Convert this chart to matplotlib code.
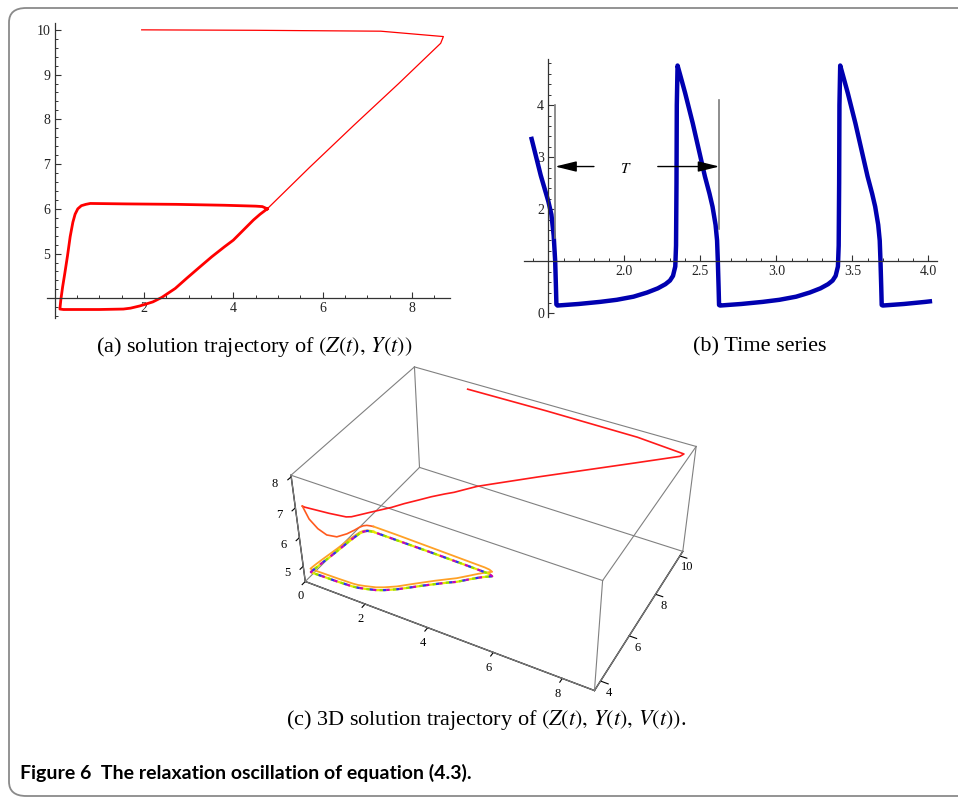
import numpy as np
import matplotlib
matplotlib.use("Agg")
import matplotlib.pyplot as plt
from matplotlib.patches import FancyBboxPatch
from matplotlib.ticker import MultipleLocator, FixedLocator, FixedFormatter

plt.rcParams['font.family'] = ['Liberation Serif', 'DejaVu Serif']
plt.rcParams['mathtext.fontset'] = 'stix'

# ---- trajectory pieces in the (Z, Y) plane ----
# transient: start -> far corner -> diagonal down to the cycle
trans_Z = [1.95, 4.5, 7.3, 8.7, 8.64, 7.7, 6.7, 5.7, 4.76]
trans_Y = [10.0, 9.99, 9.97, 9.85, 9.70, 8.80, 7.87, 6.92, 6.0]
# slow branch of the cycle (right tip -> lower left corner)
fall_Z = [4.76, 4.6, 4.45, 4.25, 4.0, 3.8, 3.52, 3.25, 2.96, 2.7, 2.4, 2.2, 1.91, 1.7, 1.54, 1.0, 0.5, 0.2, 0.12]
fall_Y = [6.0, 5.88, 5.75, 5.55, 5.3, 5.15, 4.93, 4.7, 4.45, 4.22, 4.02, 3.92, 3.83, 3.78, 3.76, 3.75, 3.75, 3.75, 3.76]
# fast jump up the left side
jump_Z = [0.12, 0.14, 0.18, 0.23, 0.29, 0.35, 0.41, 0.46, 0.52, 0.6, 0.7, 0.8]
jump_Y = [3.76, 3.96, 4.25, 4.56, 4.95, 5.38, 5.7, 5.88, 6.0, 6.07, 6.1, 6.12]
# top edge back to the right tip
top_Z = [0.8, 1.6, 2.73, 3.8, 4.5, 4.65, 4.76]
top_Y = [6.12, 6.11, 6.1, 6.08, 6.06, 6.05, 6.0]

# ---- (b) time series Z(t) ----
ts_t = [1.39, 1.42, 1.45, 1.48, 1.50, 1.52, 1.535, 1.545, 1.55, 1.553,
        1.56, 1.70, 1.84, 1.95, 2.06, 2.15, 2.22, 2.27, 2.30, 2.32, 2.335, 2.34, 2.343, 2.345, 2.35,
        2.37, 2.40, 2.45, 2.49, 2.53, 2.56, 2.58, 2.60, 2.61, 2.615, 2.62, 2.623,
        2.63, 2.77, 2.91, 3.02, 3.13, 3.22, 3.29, 3.34, 3.37, 3.39, 3.405, 3.41, 3.413, 3.415, 3.42,
        3.44, 3.47, 3.52, 3.56, 3.60, 3.63, 3.65, 3.67, 3.68, 3.685, 3.69, 3.693,
        3.70, 3.84, 3.98, 4.01]
ts_z = [3.35, 3.0, 2.65, 2.35, 2.15, 1.90, 1.5, 1.0, 0.5, 0.17,
        0.15, 0.18, 0.22, 0.26, 0.32, 0.40, 0.48, 0.56, 0.63, 0.72, 0.9, 1.3, 2.5, 4.0, 4.76,
        4.55, 4.23, 3.65, 3.14, 2.63, 2.30, 2.05, 1.70, 1.40, 1.0, 0.5, 0.16,
        0.15, 0.18, 0.22, 0.26, 0.32, 0.40, 0.48, 0.56, 0.63, 0.72, 0.9, 1.3, 2.5, 4.0, 4.76,
        4.55, 4.23, 3.65, 3.14, 2.63, 2.30, 2.05, 1.70, 1.40, 1.0, 0.5, 0.16,
        0.15, 0.18, 0.22, 0.23]

# ---- (c) V along each piece ----
red_trans_V = [7.97, 8.0, 8.0, 7.97, 7.96, 7.96, 7.95, 7.95, 7.95]
red_fall_V = [7.95, 7.93, 7.92, 7.89, 7.85, 7.82, 7.77, 7.71, 7.65, 7.58, 7.5, 7.43, 7.3, 7.2, 7.15,
              7.08, 7.03, 7.0, 7.0]
first_jump_V = [7.0, 6.45, 5.95, 5.55, 5.25, 5.1, 5.05, 5.05, 5.05, 5.05, 5.05, 5.05]
outer_top_V = [5.05, 5.05, 5.03, 5.02, 5.02, 5.01, 5.01]
outer_fall_V = [5.01, 5.0, 4.99, 4.98, 4.97, 4.96, 4.95, 4.94, 4.93, 4.92, 4.91, 4.9, 4.89, 4.88, 4.88,
                4.87, 4.86, 4.85, 4.85]
outer_jump_V = [4.85, 4.85, 4.85, 4.85, 4.85, 4.86, 4.86, 4.87, 4.87, 4.87, 4.87, 4.87]
inner_top_V = [4.85, 4.85, 4.85, 4.85, 4.85, 4.85, 4.85]
inner_fall_V = [4.85, 4.85, 4.85, 4.85, 4.84, 4.84, 4.83, 4.83, 4.82, 4.82, 4.81, 4.8, 4.79, 4.78, 4.77,
                4.75, 4.74, 4.73, 4.73]
inner_jump_V = [4.73, 4.73, 4.74, 4.75, 4.77, 4.79, 4.81, 4.83, 4.84, 4.85, 4.85, 4.85]
inner_colors = ['#e6e600', '#8fe000', '#2b2bff', '#c400c4']

fig = plt.figure(figsize=(9.58, 7.99), dpi=100)

# rounded frame
fig.patches.append(FancyBboxPatch((9 / 958, 1 - 796 / 799), 1.2, 788 / 799,
                                  boxstyle="round,pad=0,rounding_size=0.018",
                                  transform=fig.transFigure, facecolor='none',
                                  edgecolor='#8a8a8a', lw=1.3))


def mma_axes(ax, xorig, yorig):
    for s in ['top', 'right']:
        ax.spines[s].set_visible(False)
    ax.spines['left'].set_position(('data', xorig))
    ax.spines['bottom'].set_position(('data', yorig))
    for s in ['left', 'bottom']:
        ax.spines[s].set_color('#333333')
        ax.spines[s].set_linewidth(0.9)
    ax.tick_params(which='major', direction='in', length=4, width=0.8, color='#333333',
                   labelsize=10, labelcolor='#222222', pad=3)
    ax.tick_params(which='minor', direction='in', length=2.2, width=0.7, color='#333333')
    ax.patch.set_visible(False)


# panel (a)
axa = fig.add_axes([0.0490, 0.602, 0.4208, 0.3696])
axa.plot(trans_Z, trans_Y, color='red', lw=0.9)
axa.plot(fall_Z + jump_Z + top_Z, fall_Y + jump_Y + top_Y, color='red', lw=2.0,
         solid_joinstyle='round')
axa.set_xlim(-0.17, 8.85)
axa.set_ylim(3.56, 10.16)
mma_axes(axa, 0, 4)
axa.xaxis.set_major_locator(FixedLocator([2, 4, 6, 8]))
axa.xaxis.set_minor_locator(MultipleLocator(0.5))
axa.yaxis.set_major_locator(FixedLocator([5, 6, 7, 8, 9, 10]))
axa.yaxis.set_minor_locator(MultipleLocator(0.2))

# panel (b)
axb = fig.add_axes([0.547, 0.6036, 0.4308, 0.3222])
axb.plot(ts_t, ts_z, color='#0000b0', lw=3.2, solid_joinstyle='round')
axb.set_xlim(1.34, 4.055)
axb.set_ylim(-0.065, 4.88)
mma_axes(axb, 1.5, 1.0)
axb.xaxis.set_major_locator(FixedLocator([2.0, 2.5, 3.0, 3.5, 4.0]))
axb.xaxis.set_major_formatter(FixedFormatter(['2.0', '2.5', '3.0', '3.5', '4.0']))
axb.xaxis.set_minor_locator(MultipleLocator(0.1))
axb.yaxis.set_major_locator(FixedLocator([0, 2, 3, 4]))
axb.yaxis.set_minor_locator(MultipleLocator(0.2))
axb.plot([1.545, 1.545], [1.45, 4.0], color='#7a7a7a', lw=1.2)
axb.plot([2.62, 2.62], [1.62, 4.1], color='#7a7a7a', lw=1.2)
arrow = dict(arrowstyle='-|>,head_length=1.3,head_width=0.32', color='black', lw=1.0,
             shrinkA=0, shrinkB=0)
axb.annotate('', xy=(1.545, 2.82), xytext=(1.80, 2.82), arrowprops=arrow)
axb.annotate('', xy=(2.625, 2.82), xytext=(2.22, 2.82), arrowprops=arrow)
axb.text(2.01, 2.77, '$T$', fontsize=11, ha='center', va='center')

# panel (c)
ax3 = fig.add_axes([0.2618, 0.0470, 0.5004, 0.60], projection='3d')
ax3.set_proj_type('persp', focal_length=0.45)
ax3.view_init(elev=38, azim=-62)
ax3.set_box_aspect((2.0, 1.4, 0.83), zoom=0.842)
xl, yl, zl = (0, 8.9), (3.6, 10.25), (4.45, 8.05)
ax3.set_xlim(*xl)
ax3.set_ylim(*yl)
ax3.set_zlim(*zl)
ax3.grid(False)
ax3.patch.set_visible(False)
for axis in (ax3.xaxis, ax3.yaxis, ax3.zaxis):
    axis.set_pane_color((1, 1, 1, 0))
    axis.pane.set_edgecolor((1, 1, 1, 0))
    axis.line.set_color('black')
    axis.line.set_linewidth(1.0)
    axis._axinfo['tick']['inward_factor'] = 0.3
    axis._axinfo['tick']['outward_factor'] = 0.0
ax3.zaxis.set_ticks_position('lower')
ax3.zaxis.set_label_position('lower')
ax3.set_xticks([0, 2, 4, 6, 8])
ax3.set_yticks([4, 6, 8, 10])
ax3.set_zticks([5, 6, 7, 8])
ax3.tick_params(labelsize=9, pad=-1)
ax3.tick_params(axis='y', pad=-3)

# the 12 edges of the bounding box
for y0 in yl:
    for z0 in zl:
        ax3.plot(xl, (y0, y0), (z0, z0), color='#808080', lw=0.8)
for x0 in xl:
    for z0 in zl:
        ax3.plot((x0, x0), yl, (z0, z0), color='#808080', lw=0.8)
for x0 in xl:
    for y0 in yl:
        ax3.plot((x0, x0), (y0, y0), zl, color='#808080', lw=0.8)

ax3.plot(trans_Z + fall_Z, trans_Y + fall_Y, red_trans_V + red_fall_V, color='#ff1a1a', lw=1.2)
ax3.plot(jump_Z, jump_Y, first_jump_V, color='#ff5a1e', lw=1.2)
ax3.plot(top_Z + fall_Z + jump_Z, top_Y + fall_Y + jump_Y,
         outer_top_V + outer_fall_V + outer_jump_V, color='#ffa126', lw=1.3)
for i, c in enumerate(inner_colors):
    ax3.plot(top_Z + fall_Z + jump_Z, top_Y + fall_Y + jump_Y,
             inner_top_V + inner_fall_V + inner_jump_V, color=c, lw=1.6,
             linestyle=(i * 1.5, (1.5, 4.5)) if i else '-')

# captions
fig.text(254 / 958, 1 - 347 / 799, r'(a) solution trajectory of $(Z(t),\, Y(t))$',
         ha='center', va='center', fontsize=16)
fig.text(760 / 958, 1 - 347 / 799, '(b) Time series', ha='center', va='center', fontsize=16)
fig.text(486 / 958, 1 - 720 / 799, r'(c) 3D solution trajectory of $(Z(t),\, Y(t),\, V(t))$.',
         ha='center', va='center', fontsize=16)
fig.text(20 / 958, 1 - 773 / 799, 'Figure 6  The relaxation oscillation of equation (4.3).',
         ha='left', va='center', fontsize=14, fontweight='bold', family='Lato')

fig.savefig('out.png', dpi=100)
